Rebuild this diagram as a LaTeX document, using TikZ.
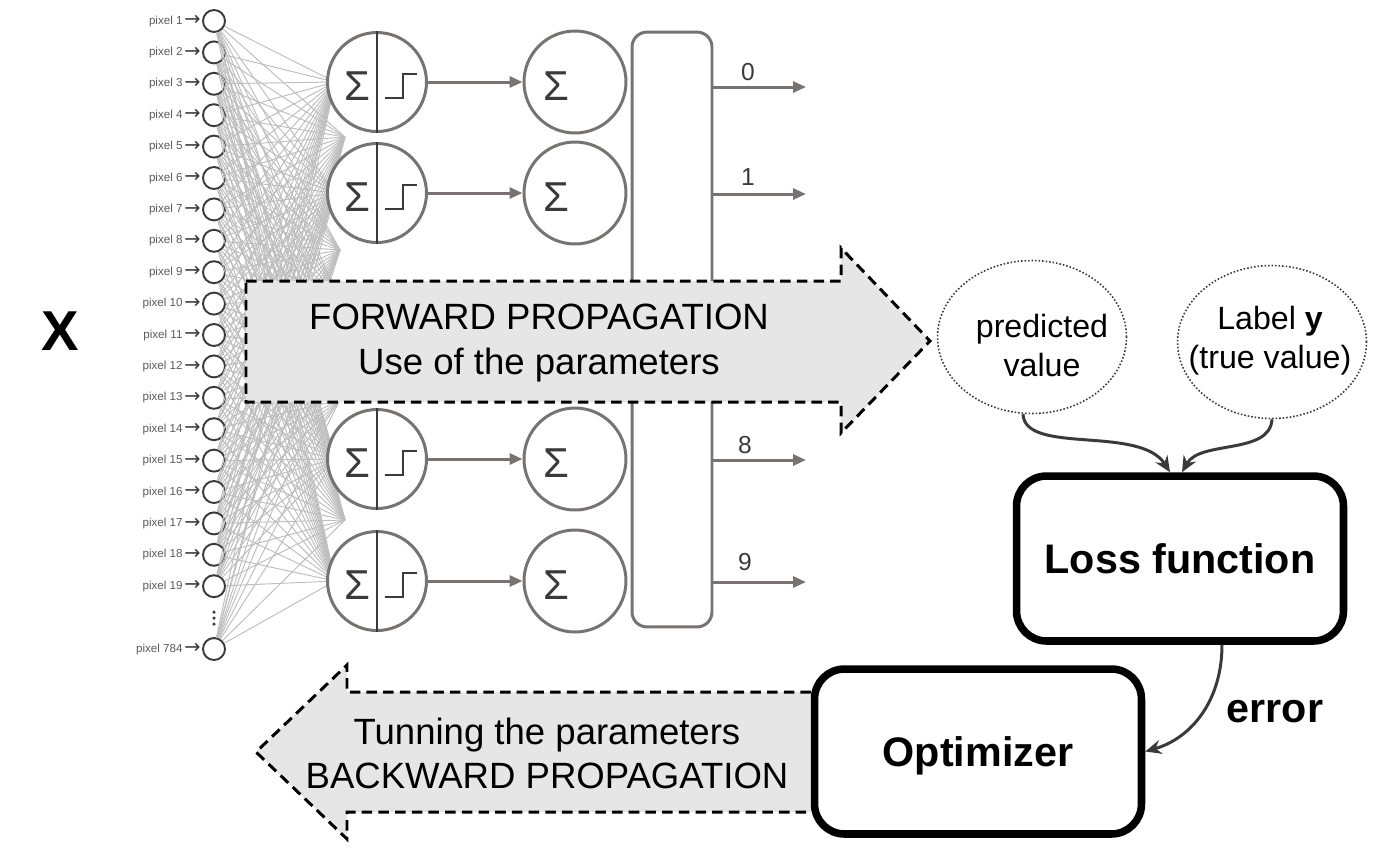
\documentclass[tikz,border=0pt]{standalone}
\usepackage{fontspec}
\setmainfont{Liberation Sans}
\newfontfamily\arrowfont{DejaVu Sans}
\usetikzlibrary{arrows.meta,calc,shapes.geometric}
\definecolor{ngray}{HTML}{787272}
\definecolor{dgray}{HTML}{3A3A3A}
\definecolor{lgray}{HTML}{BEBEBE}
\definecolor{afill}{HTML}{E6E6E6}
\definecolor{lblgray}{HTML}{5A5A5A}
\newcommand{\parr}{{\arrowfont\fontsize{11}{11}\selectfont\color{dgray}\raisebox{-0.9pt}{→}}}
\begin{document}
\begin{tikzpicture}[x=0.02cm,y=-0.02cm,
  inp/.style={circle, draw=dgray, line width=1.1pt, fill=white, minimum size=0.44cm, inner sep=0pt},
  plabel/.style={anchor=east, inner sep=0pt, text=lblgray, font=\fontsize{6.6}{7}\selectfont},
  hid/.style={circle, draw=ngray, line width=1.7pt, fill=white, minimum size=1.98cm, inner sep=0pt},
  sumn/.style={circle, draw=ngray, line width=1.7pt, fill=white, minimum size=2.04cm, inner sep=0pt},
  sig/.style={inner sep=0pt, text=dgray, font=\fontsize{23.8}{24}\selectfont},
  conn/.style={draw=lgray, line width=0.55pt},
  darkline/.style={draw=dgray, line width=1.1pt},
  garrow/.style={draw=ngray, line width=1.7pt, -{Triangle[length=0.26cm,width=0.22cm]}},
  smbox/.style={rectangle, draw=ngray, line width=1.7pt, rounded corners=0.3cm, fill=white, minimum width=1.6cm, minimum height=11.9cm, inner sep=0pt},
  dig/.style={inner sep=0pt, text=dgray, font=\fontsize{14}{16}\selectfont},
  fwdfill/.style={fill=afill},
  fwdline/.style={draw=black, line width=1.7pt, dash pattern=on 6pt off 3.5pt, miter limit=4},
  arrtext/.style={align=center, inner sep=0pt, font=\fontsize{20.8}{25.5}\selectfont},
  ell/.style={ellipse, draw=dgray, line width=0.9pt, dash pattern=on 0.9pt off 1.1pt, minimum width=3.78cm, minimum height=3.06cm, inner sep=0pt},
  elltext/.style={align=center, inner sep=0pt, font=\fontsize{18.3}{22}\selectfont},
  bigbox/.style={rectangle, draw=black, line width=4.3pt, rounded corners=0.6cm, fill=white, minimum width=6.54cm, minimum height=3.3cm, inner sep=0pt, font=\bfseries\fontsize{23.5}{28}\selectfont},
  carrow/.style={draw=dgray, line width=1.7pt, -{Stealth[length=0.32cm,width=0.28cm]}},
  blabel/.style={inner sep=0pt, font=\bfseries\fontsize{23.5}{28}\selectfont}
]
\useasboundingbox (0,0) rectangle (1400,867);

% input layer
\foreach \k in {1,...,19} {
  \node[inp] (in\k) at (214,{21+31.4*(\k-1)}) {};
  \node[plabel] (lb\k) at (201,{21+31.4*(\k-1)}) {pixel \k\,\parr};
}
\node[inp] (in20) at (214,649) {};
\node[plabel] (lb20) at (201,649) {pixel 784\,\parr};
\foreach \dy in {612,618,624} \fill[dgray] (214,\dy) circle (0.035cm);

% fan targets
\foreach [count=\j] \ty/\tx in {82/335,137/345,193/335,250/340,300/340,350/340,400/340,459/335,520/345,581/335}
  \coordinate (t\j) at (\tx,\ty);
\foreach \i in {1,...,20} {
  \foreach \j in {1,...,10} {
    \draw[conn] (in\i) -- (t\j);
  }
}

% softmax box
\node[smbox] (sm) at (672,329.5) {};

% neurons
\foreach \n/\y in {1/82,2/193,3/459,4/581} {
  \node[hid] (h\n) at (377,\y) {};
  \draw[darkline] (h\n.north) -- (h\n.south);
  \node[sig] (hs\n) at ($(h\n.center)+(-20,4)$) {Σ};
  \draw[darkline] ($(h\n.center)+(8,16)$) -- ++(18,0) -- ++(0,-24) -- ++(14,0);
  \node[sumn] (s\n) at (575,\y) {};
  \node[sig] (ss\n) at ($(s\n.center)+(-19,4)$) {Σ};
  \draw[garrow] (h\n) -- (s\n);
}

% outputs
\foreach \d/\y/\lx/\ly in {0/87/748/72,1/194/748/177,8/460/745/445,9/582/745/562} {
  \coordinate (o\d) at (806,\y);
  \draw[garrow] (sm.east |- o\d) -- (o\d);
  \node[dig] (d\d) at (\lx,\ly) {\d};
}

% X
\node[inner sep=0pt, font=\bfseries\fontsize{32}{36}\selectfont] (X) at (60,331) {X};

% forward arrow
\fill[fwdfill] (246,281) -- (841,281) -- (841,248) -- (930,341) -- (841,433) -- (841,402) -- (246,402) -- cycle;
\draw[fwdline] (246,281) -- (841,281) -- (841,248) -- (930,341) -- (841,433) -- (841,402) -- (246,402) -- cycle;
\node[arrtext] (fwdtxt) at (539,343) {FORWARD PROPAGATION\\Use of the parameters};

% ellipses
\node[ell] (pv) at (1032,337) {};
\node[elltext] (pvtxt) at (1042,345.7) {predicted\\value};
\node[ell] (ly) at (1272,342) {};
\node[elltext] (lytxt) at (1270,340.5) {Label \textbf{y}\\(true value)};

% loss and optimizer
\node[bigbox] (loss) at (1180,558.5) {Loss function};
\fill[fwdfill] (811,692) -- (347,692) -- (347,665) -- (256,752) -- (347,839) -- (347,812) -- (811,812) -- cycle;
\draw[fwdline] (811,692) -- (347,692) -- (347,665) -- (256,752) -- (347,839) -- (347,812) -- (811,812);
\node[arrtext] (bwdtxt) at (547,753.5) {Tunning the parameters\\BACKWARD PROPAGATION};
\node[bigbox, text depth=0pt] (opt) at (978,751.5) {Optimizer};

% curved connectors
\draw[carrow] ($(pv.south)+(-9,0)$) .. controls (1025,455) and (1140,425) .. ($(loss.north)+(-10,0)$);
\draw[carrow] (ly.south) .. controls (1270,455) and (1200,440) .. ($(loss.north)+(2,0)$);
\draw[carrow] ($(loss.south)+(42,0)$) .. controls (1222,700) and (1192,738) .. (opt.east);
\node[blabel] (err) at (1275,712) {error};
\end{tikzpicture}
\end{document}
